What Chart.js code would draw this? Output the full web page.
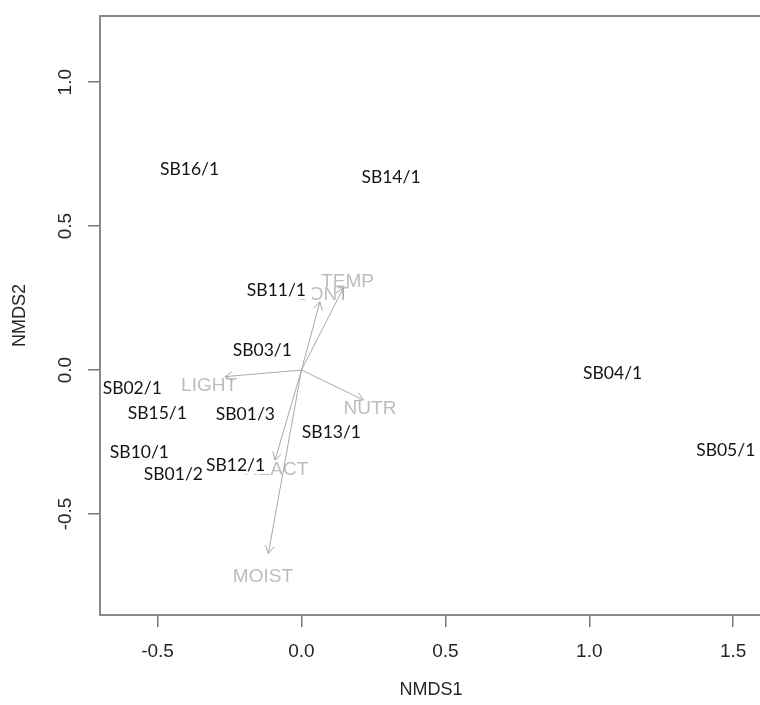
<!DOCTYPE html>
<html>
<head>
<meta charset="utf-8">
<script src="https://cdn.jsdelivr.net/npm/chart.js@4/dist/chart.umd.min.js"></script>
<style>
  html, body { margin: 0; padding: 0; background: #fff; }
  #wrap { width: 760px; height: 705px; overflow: hidden; position: relative; }
</style>
</head>
<body>
<div id="wrap"><canvas id="nmds" width="764" height="705"></canvas></div>
<script>
// site scores (NMDS1, NMDS2)
const sampleNames = ['SB16/1', 'SB14/1', 'SB11/1', 'SB03/1', 'SB02/1', 'SB15/1', 'SB01/3',
  'SB13/1', 'SB10/1', 'SB01/2', 'SB12/1', 'SB04/1', 'SB05/1'];
const sampleX = [-0.389, 0.311, -0.087, -0.136, -0.588, -0.501, -0.195,
  0.104, -0.563, -0.445, -0.229, 1.081, 1.474];
const sampleY = [0.697, 0.671, 0.278, 0.070, -0.064, -0.148, -0.151,
  -0.214, -0.283, -0.360, -0.330, -0.009, -0.278];

// fitted environmental vectors: arrow tips and label positions
const envNames = ['LIGHT', 'TEMP', 'CONT', 'NUTR', 'REACT', 'MOIST'];
const envX = [-0.266, 0.145, 0.064, 0.215, -0.092, -0.115];
const envY = [-0.023, 0.284, 0.237, -0.104, -0.313, -0.637];
const envLabelX = [-0.321, 0.160, 0.071, 0.238, -0.088, -0.134];
const envLabelY = [-0.049, 0.313, 0.268, -0.130, -0.339, -0.711];

// axes
const xMin = -0.7, xMax = 1.6;
const yMin = -0.851, yMax = 1.230;
const tickStep = 0.5;
const xTitle = 'NMDS1';
const yTitle = 'NMDS2';

const BOX = '#8a8a8a';
const ARROW = '#a9a9a9';
const ENV_TEXT = '#bdbdbd';
const AXIS_FONT = '"Liberation Sans", Arial, sans-serif';
const LABEL_FONT = 'Lato, "Open Sans", sans-serif';

const arrowSets = envNames.map((n, i) => ({
  label: n,
  data: [{ x: 0, y: 0 }, { x: envX[i], y: envY[i] }],
  showLine: true,
  borderColor: ARROW,
  borderWidth: 1,
  pointRadius: 0
}));

const sitesSet = {
  label: 'sites',
  data: sampleX.map((x, i) => ({ x: x, y: sampleY[i] })),
  pointRadius: 0
};

const envLabelSet = {
  label: 'envLabels',
  data: envLabelX.map((x, i) => ({ x: x, y: envLabelY[i] })),
  pointRadius: 0
};

const ordiPlugin = {
  id: 'ordi',
  beforeDatasetsDraw(chart) {
    const ctx = chart.ctx;
    // environmental labels under the arrows
    const meta = chart.getDatasetMeta(chart.data.datasets.indexOf(envLabelSet));
    ctx.save();
    ctx.font = '19px ' + AXIS_FONT;
    ctx.fillStyle = ENV_TEXT;
    ctx.textAlign = 'center';
    ctx.textBaseline = 'alphabetic';
    meta.data.forEach((pt, i) => {
      ctx.fillText(envNames[i], pt.x, pt.y + 7);
    });
    ctx.restore();
  },
  afterDatasetsDraw(chart) {
    const ctx = chart.ctx;
    const area = chart.chartArea;
    const xs = chart.scales.x, ys = chart.scales.y;
    ctx.save();
    // arrow heads
    ctx.strokeStyle = ARROW;
    ctx.lineWidth = 1;
    envNames.forEach((n, i) => {
      const x0 = xs.getPixelForValue(0), y0 = ys.getPixelForValue(0);
      const x1 = xs.getPixelForValue(envX[i]), y1 = ys.getPixelForValue(envY[i]);
      const a = Math.atan2(y1 - y0, x1 - x0);
      const len = 9;
      ctx.beginPath();
      ctx.moveTo(x1 - len * Math.cos(a - Math.PI / 6), y1 - len * Math.sin(a - Math.PI / 6));
      ctx.lineTo(x1, y1);
      ctx.lineTo(x1 - len * Math.cos(a + Math.PI / 6), y1 - len * Math.sin(a + Math.PI / 6));
      ctx.stroke();
    });

    // site labels with white fill (they hide parts of the env labels)
    ctx.save();
    ctx.beginPath();
    ctx.rect(area.left + 1, area.top + 1, area.right - area.left - 2, area.bottom - area.top - 2);
    ctx.clip();
    const meta = chart.getDatasetMeta(chart.data.datasets.indexOf(sitesSet));
    ctx.font = '17.5px ' + LABEL_FONT;
    ctx.textAlign = 'center';
    ctx.textBaseline = 'alphabetic';
    meta.data.forEach((pt, i) => {
      const w = ctx.measureText(sampleNames[i]).width;
      ctx.fillStyle = '#fff';
      ctx.fillRect(pt.x - w / 2 - 4, pt.y - 9, w + 10, 18);
      ctx.fillStyle = '#141414';
      ctx.fillText(sampleNames[i], pt.x, pt.y + 6);
    });
    ctx.restore();

    // top border of the box (left and bottom come from the axes)
    ctx.strokeStyle = BOX;
    ctx.lineWidth = 2;
    ctx.beginPath();
    ctx.moveTo(area.left - 1, area.top);
    ctx.lineTo(area.right + 1, area.top);
    ctx.stroke();

    // y tick labels (rotated, like base R)
    ctx.font = '19px ' + AXIS_FONT;
    ctx.fillStyle = '#262626';
    ctx.textAlign = 'center';
    ctx.textBaseline = 'middle';
    ys.ticks.forEach(t => {
      const py = ys.getPixelForValue(t.value);
      ctx.save();
      ctx.translate(66, py);
      ctx.rotate(-Math.PI / 2);
      ctx.fillText(t.value.toFixed(1), 0, 0);
      ctx.restore();
    });

    // axis titles
    ctx.font = '18px ' + AXIS_FONT;
    ctx.fillText(xTitle, (area.left + area.right) / 2, 690);
    ctx.save();
    ctx.translate(20, (area.top + area.bottom) / 2);
    ctx.rotate(-Math.PI / 2);
    ctx.fillText(yTitle, 0, 0);
    ctx.restore();
    ctx.restore();
  }
};

new Chart(document.getElementById('nmds'), {
  type: 'scatter',
  data: { datasets: [...arrowSets, sitesSet, envLabelSet] },
  options: {
    responsive: false,
    animation: false,
    events: [],
    layout: { padding: { top: 16, right: 2, left: 0, bottom: 0 } },
    plugins: { legend: { display: false }, tooltip: { enabled: false } },
    scales: {
      x: {
        type: 'linear',
        min: xMin,
        max: xMax,
        afterFit: s => { s.height = 90; },
        border: { display: true, color: BOX, width: 2 },
        grid: { drawOnChartArea: false, drawTicks: true, tickLength: 12, color: '#7a7a7a', lineWidth: 1.5 },
        ticks: {
          stepSize: tickStep,
          includeBounds: false,
          padding: 13,
          color: '#262626',
          font: { family: AXIS_FONT, size: 19 },
          callback: v => v.toFixed(1)
        }
      },
      y: {
        type: 'linear',
        min: yMin,
        max: yMax,
        afterFit: s => { s.width = 100; },
        border: { display: true, color: BOX, width: 2 },
        grid: { drawOnChartArea: false, drawTicks: true, tickLength: 12, color: '#7a7a7a', lineWidth: 1.5 },
        ticks: {
          stepSize: tickStep,
          includeBounds: false,
          display: false
        }
      }
    }
  },
  plugins: [ordiPlugin]
});
</script>
</body>
</html>
